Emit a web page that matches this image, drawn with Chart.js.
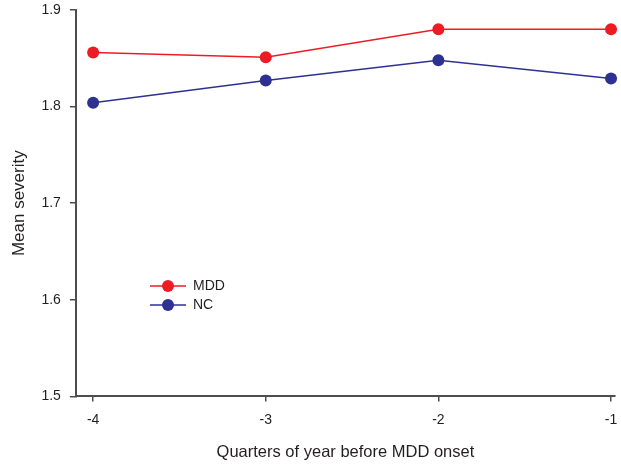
<!DOCTYPE html>
<html>
<head>
<meta charset="utf-8">
<script src="https://cdn.jsdelivr.net/npm/chart.js@4.4.1/dist/chart.umd.min.js"></script>
<style>
  html, body { margin: 0; padding: 0; background: #fff; }
  #wrap { width: 621px; height: 466px; }
</style>
</head>
<body>
<div id="wrap"><canvas id="myLineChart" width="621" height="466"></canvas></div>
<script>
// data
var quarters = [-4, -3, -2, -1];
var mdd = [1.856, 1.851, 1.880, 1.880];
var nc = [1.804, 1.827, 1.848, 1.829];
var yTicks = [1.5, 1.6, 1.7, 1.8, 1.9];

var red = '#ed1c24';
var blue = '#2e3192';
var axisColor = '#4d4d4d';
var textColor = '#231f20';
var font = 'Liberation Sans, Arial, sans-serif';

function toPoints(vals){
    return quarters.map(function(q, i){ return {x: q, y: vals[i]}; });
}

// legend drawn inside plot, line with a dot like the original
var floatLegend = {
    id: 'floatLegend',
    afterDraw: function(chart){
        var ctx = chart.ctx;
        var x0 = 150, y0 = 286, gap = 19;
        ctx.save();
        chart.data.datasets.forEach(function(ds, i){
            var y = y0 + i * gap;
            ctx.strokeStyle = ds.borderColor;
            ctx.lineWidth = 1.5;
            ctx.beginPath();
            ctx.moveTo(x0, y);
            ctx.lineTo(x0 + 36, y);
            ctx.stroke();
            ctx.fillStyle = ds.backgroundColor;
            ctx.beginPath();
            ctx.arc(x0 + 18, y, 6, 0, Math.PI * 2);
            ctx.fill();
            ctx.fillStyle = textColor;
            ctx.font = '14px ' + font;
            ctx.textBaseline = 'middle';
            ctx.fillText(ds.label, x0 + 43, y);
        });
        ctx.restore();
    }
};

var ctx = document.getElementById('myLineChart');
var myLineChart = new Chart(ctx, {
    type: 'line',
    data: {
        datasets: [
            {
                label: 'MDD',
                data: toPoints(mdd),
                borderColor: red,
                backgroundColor: red,
                borderWidth: 1.5,
                pointRadius: 6,
                pointBorderWidth: 0,
                fill: false,
                clip: false
            },
            {
                label: 'NC',
                data: toPoints(nc),
                borderColor: blue,
                backgroundColor: blue,
                borderWidth: 1.5,
                pointRadius: 6,
                pointBorderWidth: 0,
                fill: false,
                clip: false
            }
        ]
    },
    options: {
        responsive: false,
        animation: false,
        layout: { padding: { top: 10, right: 6, left: 9, bottom: 4 } },
        plugins: {
            legend: { display: false },
            tooltip: { enabled: false }
        },
        scales: {
            x: {
                type: 'linear',
                min: -4.1,
                max: -0.977,
                afterBuildTicks: function(axis){
                    axis.ticks = quarters.map(function(q){ return {value: q}; });
                },
                afterFit: function(axis){ axis.paddingLeft = 0; axis.paddingRight = 0; },
                grid: { display: true, drawOnChartArea: false, drawTicks: true, tickLength: 5, color: axisColor, lineWidth: 1.5 },
                border: { display: true, color: axisColor, width: 2 },
                ticks: { color: textColor, font: { family: font, size: 14 }, padding: 10, maxRotation: 0 },
                title: { display: true, text: 'Quarters of year before MDD onset', color: textColor, font: { family: font, size: 16.5 }, padding: { top: 4, bottom: 0 } }
            },
            y: {
                min: 1.5,
                max: 1.9,
                afterBuildTicks: function(axis){
                    axis.ticks = yTicks.map(function(v){ return {value: v}; });
                },
                afterFit: function(axis){ axis.paddingTop = 0; axis.paddingBottom = 0; },
                grid: { display: true, drawOnChartArea: false, drawTicks: true, tickLength: 6, color: axisColor, lineWidth: 1.5 },
                border: { display: true, color: axisColor, width: 2 },
                ticks: { color: textColor, font: { family: font, size: 14 }, padding: 9,
                    callback: function(v){ return v.toFixed(1); } },
                title: { display: true, text: 'Mean severity', color: textColor, font: { family: font, size: 17 }, padding: { top: 0, bottom: 3 } }
            }
        }
    },
    plugins: [floatLegend]
});
</script>
</body>
</html>
